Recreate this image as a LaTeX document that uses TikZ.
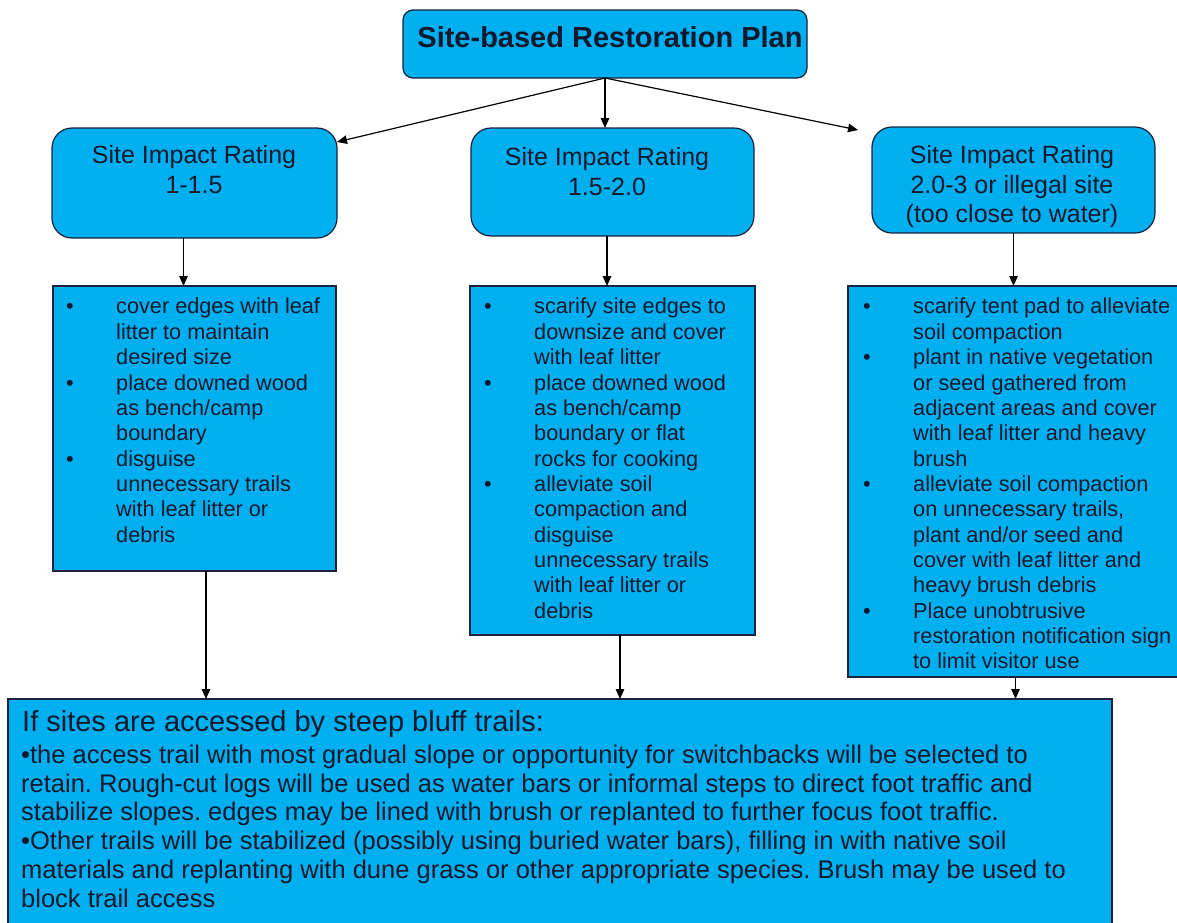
\documentclass[tikz,border=0pt]{standalone}
\usepackage{fontspec}
\setmainfont{Liberation Sans}
\usetikzlibrary{arrows.meta}
\definecolor{boxblue}{RGB}{0,175,239}
\definecolor{boxline}{RGB}{25,35,60}
\definecolor{txt}{RGB}{15,25,45}
\frenchspacing
\begin{document}
\begin{tikzpicture}[x=1pt,y=-1pt,
  box/.style={draw=boxline, fill=boxblue, line width=1.2pt, anchor=north west, inner sep=0pt, outer sep=0pt},
  rbox/.style={box, rounded corners=20pt},
  arr/.style={draw=black, line width=1.2pt, -{Triangle[length=10pt,width=8.5pt]}},
  hd/.style={anchor=north, inner sep=0pt, text=txt, font=\fontsize{25}{29.5}\selectfont},
  lst/.style={anchor=north west, inner sep=0pt, text=txt, font=\fontsize{21.7}{25.35}\selectfont}
]
\useasboundingbox (0,0) rectangle (1177,922);
\clip (0,0) rectangle (1177,922);

% boxes
\node[box, rounded corners=10pt, minimum width=404pt, minimum height=68pt] (top) at (403,10) {};
\node[rbox, minimum width=285pt, minimum height=110pt] (l1) at (52,128) {};
\node[rbox, minimum width=283pt, minimum height=108pt] (m1) at (471,128) {};
\node[rbox, minimum width=283pt, minimum height=106pt] (r1) at (872,127) {};
\node[box, minimum width=283pt, minimum height=285pt] (l2) at (53,286) {};
\node[box, minimum width=285pt, minimum height=349pt] (m2) at (470,286) {};
\node[box, minimum width=345pt, minimum height=391pt] (r2) at (848,286) {};
\node[box, minimum width=1104pt, minimum height=240pt] (bot) at (8,699) {};

% title
\node[anchor=base, inner sep=0pt, text=txt, font=\fontsize{29}{33}\selectfont\bfseries] (title) at (610,47) {Site-based Restoration Plan};

% rating headings
\node[hd] (l1t) at (194,143) {\begin{tabular}{@{}c@{}}Site Impact Rating\\1-1.5\end{tabular}};
\node[hd] (m1t) at (607,145) {\begin{tabular}{@{}c@{}}Site Impact Rating\\1.5-2.0\end{tabular}};
\node[hd] (r1t) at (1012,143) {\begin{tabular}{@{}c@{}}Site Impact Rating\\2.0-3 or illegal site\\(too close to water)\end{tabular}};

% lists
\node[lst] (l2t) at (66,296) {\begin{tabular}{@{}p{50pt}@{}l@{}}
• & cover edges with leaf\\
  & litter to maintain\\
  & desired size\\
• & place downed wood\\
  & as bench/camp\\
  & boundary\\
• & disguise\\
  & unnecessary trails\\
  & with leaf litter or\\
  & debris
\end{tabular}};
\node[lst] (m2t) at (484,296) {\begin{tabular}{@{}p{50pt}@{}l@{}}
• & scarify site edges to\\
  & downsize and cover\\
  & with leaf litter\\
• & place downed wood\\
  & as bench/camp\\
  & boundary or flat\\
  & rocks for cooking\\
• & alleviate soil\\
  & compaction and\\
  & disguise\\
  & unnecessary trails\\
  & with leaf litter or\\
  & debris
\end{tabular}};
\node[lst] (r2t) at (863,296) {\begin{tabular}{@{}p{50pt}@{}l@{}}
• & scarify tent pad to alleviate\\
  & soil compaction\\
• & plant in native vegetation\\
  & or seed gathered from\\
  & adjacent areas and cover\\
  & with leaf litter and heavy\\
  & brush\\
• & alleviate soil compaction\\
  & on unnecessary trails,\\
  & plant and/or seed and\\
  & cover with leaf litter and\\
  & heavy brush debris\\
• & Place unobtrusive\\
  & restoration notification sign\\
  & to limit visitor use
\end{tabular}};

% bottom text
\node[anchor=base west, inner sep=0pt, text=txt, font=\fontsize{29}{33}\selectfont] (both) at (22,731) {If sites are accessed by steep bluff trails:};
\node[anchor=north west, inner sep=0pt, text=txt, font=\fontsize{25.5}{28.8}\selectfont] (botb) at (21,743) {\begin{tabular}{@{}l@{}}
•the access trail with most gradual slope or opportunity for switchbacks will be selected to\\
retain. Rough-cut logs will be used as water bars or informal steps to direct foot traffic and\\
stabilize slopes. edges may be lined with brush or replanted to further focus foot traffic.\\
•Other trails will be stabilized (possibly using buried water bars), filling in with native soil\\
materials and replanting with dune grass or other appropriate species. Brush may be used to\\
block trail access
\end{tabular}};

% connectors
\draw[arr] (top.south) -- (top.south |- m1.north);
\draw[arr] (top.south) -- ([yshift=-14pt]l1.north east);
\draw[arr] (top.south) -- ([xshift=-14pt,yshift=-3pt]r1.north west);
\draw[arr] ([xshift=-11pt]l1.south) -- ([xshift=-11pt]l1.south |- l2.north);
\draw[arr] ([xshift=-5.5pt]m1.south) -- ([xshift=-5.5pt]m1.south |- m2.north);
\draw[arr] (r1.south) -- (r1.south |- r2.north);
\draw[arr] ([xshift=11.5pt]l2.south) -- ([xshift=11.5pt]l2.south |- bot.north);
\draw[arr] ([xshift=7.5pt]m2.south) -- ([xshift=7.5pt]m2.south |- bot.north);
\draw[arr] ([xshift=-5pt]r2.south) -- ([xshift=-5pt]r2.south |- bot.north);
\end{tikzpicture}
\end{document}
